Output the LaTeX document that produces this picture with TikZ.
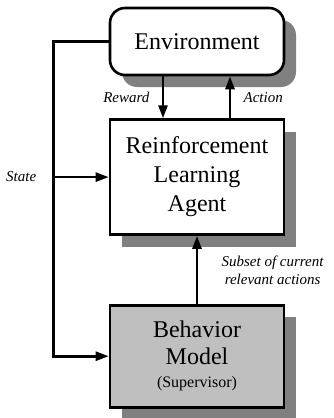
\documentclass[tikz,border=0pt]{standalone}
\usepackage{fontspec}
\setmainfont{Liberation Serif}
\usetikzlibrary{arrows.meta,positioning,shadows,calc}
\tikzset{
    rlbox/.style={draw, line width=2.6pt, align=center, fill=white,
        font=\fontsize{24}{29}\selectfont, minimum width=174pt,
        drop shadow={shadow xshift=12pt, shadow yshift=-12pt, fill=black!50, opacity=1}},
    envbox/.style={rlbox, rounded corners=15pt, minimum height=67pt},
    rlarrow/.style={-{Triangle[length=13pt,width=9pt]}, line width=2.6pt},
    rllabel/.style={font=\fontsize{15}{18}\selectfont\itshape}
}

\begin{document}
\begin{tikzpicture}[node distance=42pt]
\node[envbox] (env) {Environment};
\node[rlbox, below=of env, minimum height=115pt] (agent) {Reinforcement\\Learning\\Agent};
\node[rlbox, below=68pt of agent, minimum height=102pt, fill=black!25] (behav)
    {Behavior\\[-2pt]Model\\[-6pt]{\fontsize{16}{19}\selectfont(Supervisor)}};
\coordinate (corner) at ($(env.west)+(-55pt,0)$);
\useasboundingbox ($(env.center)+(-197pt,41.5pt)$) rectangle ($(env.center)+(136pt,-376.5pt)$);
\draw[rlarrow] ([xshift=-34pt]env.south) -- ([xshift=-34pt]agent.north)
    node[midway, left=9pt, rllabel] {Reward};
\draw[rlarrow] ([xshift=33pt]agent.north) -- ([xshift=33pt]env.south)
    node[midway, right=9pt, rllabel] {Action};
\draw[rlarrow] (env.west) -- (corner) |- (behav.west);
\draw[rlarrow] (corner |- agent.west) -- (agent.west);
\node[rllabel, left=14pt of corner |- agent.west] (state) {State};
\draw[rlarrow] (behav.north) -- (agent.south)
    node[midway, right=20pt, rllabel, align=center] {Subset of current\\relevant actions};
\end{tikzpicture}
\end{document}
